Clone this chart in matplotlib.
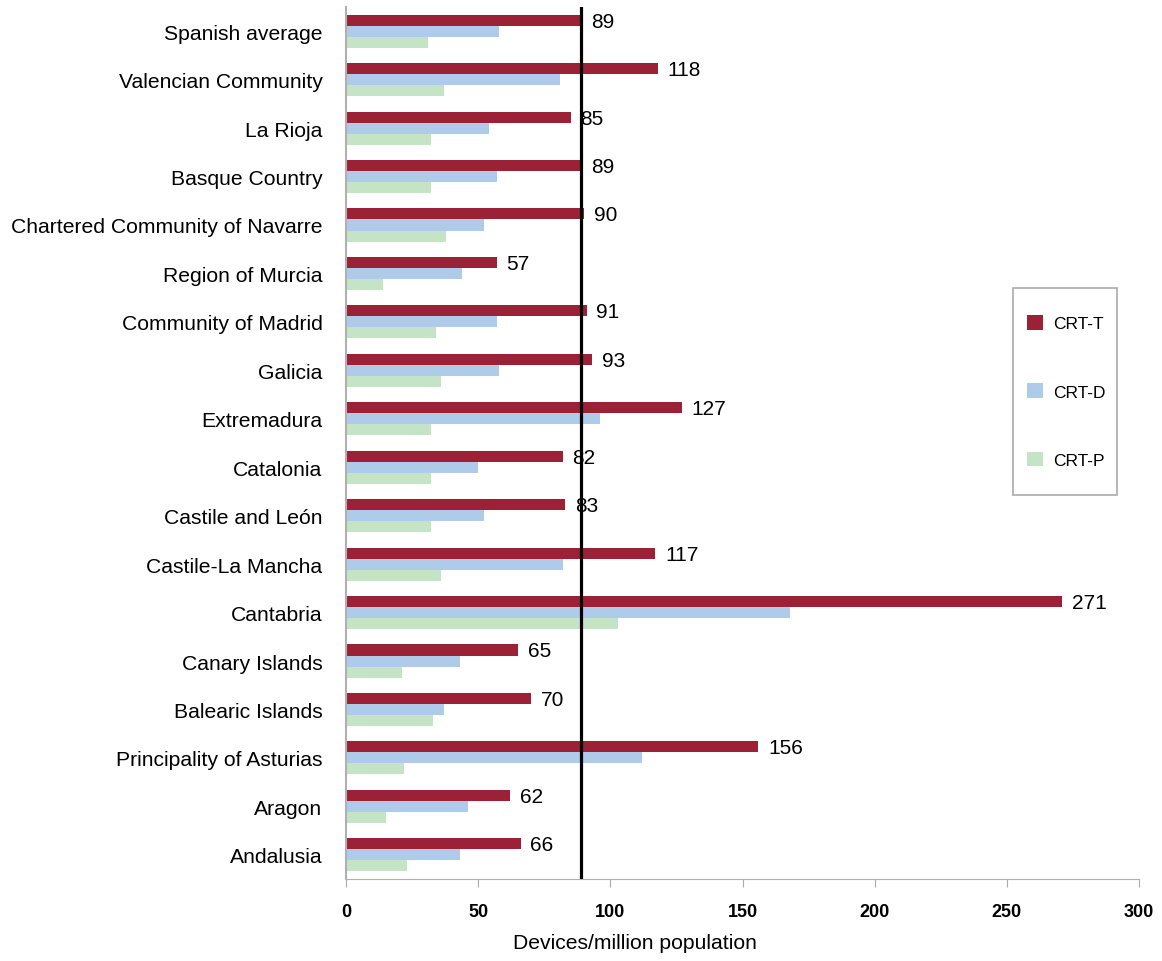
import numpy as np
import matplotlib.pyplot as plt
from matplotlib.patches import Rectangle

plt.rcParams['font.family'] = ['Liberation Sans', 'DejaVu Sans']

# Datos (de arriba hacia abajo)
regiones = ["Spanish average", "Valencian Community", "La Rioja", "Basque Country",
            "Chartered Community of Navarre", "Region of Murcia", "Community of Madrid",
            "Galicia", "Extremadura", "Catalonia", "Castile and León", "Castile-La Mancha",
            "Cantabria", "Canary Islands", "Balearic Islands", "Principality of Asturias",
            "Aragon", "Andalusia"]
crt_t = [89, 118, 85, 89, 90, 57, 91, 93, 127, 82, 83, 117, 271, 65, 70, 156, 62, 66]
crt_d = [58, 81, 54, 57, 52, 44, 57, 58, 96, 50, 52, 82, 168, 43, 37, 112, 46, 43]
crt_p = [31, 37, 32, 32, 38, 14, 34, 36, 32, 32, 32, 36, 103, 21, 33, 22, 15, 23]
media = 89

rojo = '#9b2236'
azul = '#aecbea'
verde = '#c5e3c5'

fig = plt.figure(figsize=(11.62, 9.62), dpi=100)
ax = fig.add_axes([0.2978, 0.0852, 0.6825, 0.9065])

y = np.arange(len(regiones))
h = 0.228
ax.barh(y - h, crt_t, height=h, color=rojo, label='CRT-T')
ax.barh(y, crt_d, height=h, color=azul, label='CRT-D')
ax.barh(y + h, crt_p, height=h, color=verde, label='CRT-P')

for yi, v in zip(y, crt_t):
    ax.annotate(str(v), (v, yi - h + 0.02), xytext=(7, 0), textcoords='offset points',
                va='center', ha='left', fontsize=15)

ax.axvline(media, color='black', lw=2.3, zorder=5)

ax.set_ylim(len(regiones) - 0.5, -0.5)
ax.set_xlim(0, 300)
ax.set_yticks(y)
ax.set_yticklabels(regiones, fontsize=15.2)
ax.set_xticks(np.arange(0, 301, 50))
ax.set_xticklabels([str(v) for v in range(0, 301, 50)], fontsize=13, fontweight='bold',
                   family=['Liberation Sans Narrow', 'Liberation Sans'])
ax.tick_params(axis='y', length=0, pad=17)
ax.tick_params(axis='x', length=6, color='#aaaaaa', pad=11)
ax.set_xlabel('Devices/million population', fontsize=15.2, labelpad=12)
ax.xaxis.set_label_coords(0.364, -0.062)

for s in ['top', 'right']:
    ax.spines[s].set_visible(False)
ax.spines['left'].set_color('#b0b0b0')
ax.spines['bottom'].set_color('#b0b0b0')
ax.spines['left'].set_linewidth(1.5)

# Leyenda con marco propio
marco = Rectangle((0.841, 0.440), 0.131, 0.238, transform=ax.transAxes, fill=False,
                  edgecolor='#aaaaaa', lw=1.2, zorder=6, clip_on=False)
ax.add_patch(marco)
leg = ax.legend(loc='center', bbox_to_anchor=(0.9085, 0.559), fontsize=12.5,
                frameon=False, labelspacing=3.0, handlelength=0.9,
                handleheight=0.9, borderpad=0, handletextpad=0.6, borderaxespad=0)

fig.savefig('out.png', dpi=100)
